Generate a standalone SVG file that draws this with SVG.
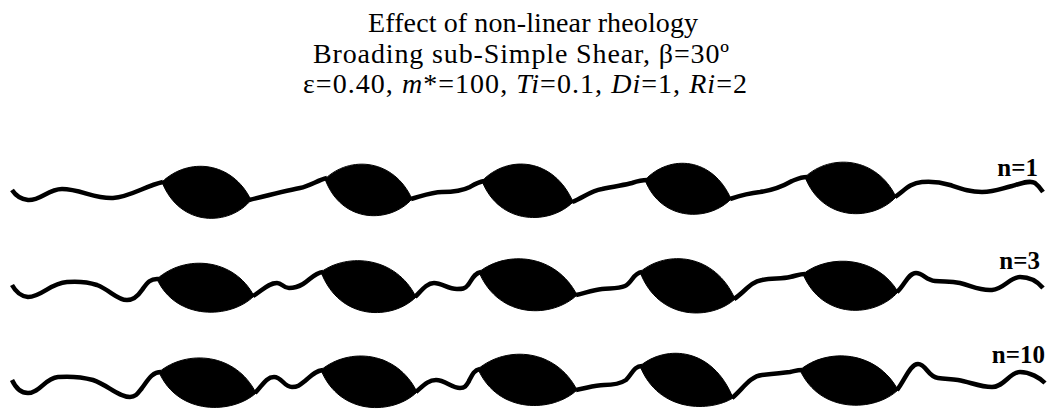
<svg xmlns="http://www.w3.org/2000/svg" width="1052" height="410" viewBox="0 0 1052 410">
  <style>
    .title { font-family: "Liberation Serif", "Times New Roman", serif; font-size: 28px; fill: #000; text-anchor: middle; }
    .it { font-style: italic; }
    .label { font-family: "Liberation Serif", "Times New Roman", serif; font-size: 25px; font-weight: bold; fill: #000; text-anchor: end; }
    .layer { fill: none; stroke: #000; stroke-width: 4.5; stroke-linejoin: round; stroke-linecap: butt; }
    .boudin { fill: #000; stroke: #000; stroke-width: 1; }
  </style>
  <rect width="1052" height="410" fill="#fff"/>

  <!-- heading -->
  <g id="title">
    <text class="title" x="533" y="32" textLength="330">Effect of non-linear rheology</text>
    <text class="title" x="521" y="63" textLength="416">Broading sub-Simple Shear, β=30º</text>
    <text class="title" x="525" y="93" textLength="444">ε=0.40, <tspan class="it">m</tspan>*=100, <tspan class="it">Ti</tspan>=0.1, <tspan class="it">Di</tspan>=1, <tspan class="it">Ri</tspan>=2</text>
  </g>

  <!-- stress exponent n = 1 -->
  <g id="row-n1">
    <g class="connectors">
      <path class="layer" d="M12,190 Q18,199 28,200 C40,201 48,189 62,189 C80,189 95,199 113,198 C130,197 145,186 163,182"/>
      <path class="layer" d="M249,200 C265,196 285,191 300,188 C310,186 318,180 327,178"/>
      <path class="layer" d="M411,199 C422,196 432,192 442,192 C452,192 462,191 470,187 C475,184 478,182 484,181"/>
      <path class="layer" d="M572,202 C583,198 590,191 602,189 C615,186 625,185 632,183 C638,181 642,180 647,180"/>
      <path class="layer" d="M730,199 C742,195 750,193 760,192 C775,190 785,185 792,181 C797,179 801,177 807,177"/>
      <path class="layer" d="M895,197 C905,190 910,183 922,182 C932,181 940,182 950,185 C962,189 970,192 982,192 C995,192 1000,189 1012,186 C1022,183 1030,180 1035,183 C1039,186 1041,189 1043,192"/>
    </g>
    <path class="boudin" d="M162,182 C188,157 232,161 251,200 C230,226 180,228 162,182 Z"/>
    <path class="boudin" d="M325,179 C350,155 394,159 412,199 C391,223 342,225 325,179 Z"/>
    <path class="boudin" d="M482,181 C508,154 554,158 573,202 C551,224.5 500,226.5 482,181 Z"/>
    <path class="boudin" d="M645,180 C670,153.5 713,157.5 731,199 C710,221 662,223 645,180 Z"/>
    <path class="boudin" d="M805,177 C831,153 877,157 896,197 C874,221 823,223 805,177 Z"/>
    <text class="label" x="1038" y="176">n=1</text>
  </g>

  <!-- stress exponent n = 3 -->
  <g id="row-n3">
    <g class="connectors">
      <path class="layer" d="M12,285 Q18,296 28,297 C42,297 50,283 67,282 C80,281 88,282 97,285 C110,290 117,300 127,300 C134,300 138,296 142,290 C147,283 150,278 159,279"/>
      <path class="layer" d="M253,296 C262,291 268,283 277,283 C282,283 283,288 289,288 C295,288 298,287 303,284 C310,280 314,273 323,272"/>
      <path class="layer" d="M415,297 C422,290 427,283 434,283 C442,283 448,289 457,289 C462,289 465,289 468,285 C472,280 474,273 481,272"/>
      <path class="layer" d="M576,295 C585,293 593,290 602,289 C610,288 618,289 625,286 C632,283 633,273 642,272"/>
      <path class="layer" d="M734,299 C745,292 750,282 762,280 C772,278 782,279 790,277 C796,276 799,274 805,274"/>
      <path class="layer" d="M897,292 C905,285 908,273 916,273 C923,273 926,280 935,281 C945,282 950,281 960,283 C972,286 980,291 992,290 C1004,289 1010,277 1020,277 C1030,277 1038,282 1043,288"/>
    </g>
    <path class="boudin" d="M157,279 C185,254 234,258 254,296 C231,319 176,321 157,279 Z"/>
    <path class="boudin" d="M321,272 C348,252.5 396,256.5 416,297 C393,320 340,322 321,272 Z"/>
    <path class="boudin" d="M479,272 C507,250 556,254 577,295 C553,318 499,320 479,272 Z"/>
    <path class="boudin" d="M640,272 C667,249.5 715,253.5 735,299 C712,320 659,322 640,272 Z"/>
    <path class="boudin" d="M803,274 C830,253 878,257 898,292 C875,318 822,320 803,274 Z"/>
    <text class="label" x="1040" y="269">n=3</text>
  </g>

  <!-- stress exponent n = 10 -->
  <g id="row-n10">
    <g class="connectors">
      <path class="layer" d="M12,380 Q18,393 28,393 C40,393 45,378 58,377 C72,376 82,377 93,380 C108,385 118,397 130,397 C136,397 138,393 142,388 C148,380 152,372 161,372"/>
      <path class="layer" d="M255,393 C262,386 266,377 274,377 C282,377 284,387 292,387 C298,387 300,385 305,381 C311,376 315,371 323,370"/>
      <path class="layer" d="M416,392 C423,386 428,380 436,380 C445,380 452,388 460,388 C465,388 466,386 469,381 C472,375 474,370 480,369"/>
      <path class="layer" d="M576,390 C587,388 595,385 604,385 C612,385 620,384 626,380 C632,374 634,366 642,366"/>
      <path class="layer" d="M732,398 C742,390 750,376 762,375 C772,374 782,373 790,372 C795,371 797,370 802,370"/>
      <path class="layer" d="M897,390 C905,380 910,364 918,364 C926,364 928,377 938,378 C945,379 950,379 958,380 C970,382 980,387 992,387 C1004,387 1010,372 1020,372 C1030,372 1040,378 1045,383"/>
    </g>
    <path class="boudin" d="M159,372 C187,349 236,353 256,393 C233,414 178,416 159,372 Z"/>
    <path class="boudin" d="M321,370 C349,347 397,351 417,392 C394,414.7 340,416.7 321,370 Z"/>
    <path class="boudin" d="M478,369 C507,345 556,349 577,390 C553,412.5 498,414.5 478,369 Z"/>
    <path class="boudin" d="M640,366 C667,344 713,348 733,398 C711,411.7 659,413.7 640,366 Z"/>
    <path class="boudin" d="M800,370 C828,347 877,351 898,390 C874.5,412 820,414 800,370 Z"/>
    <text class="label" x="1045" y="363">n=10</text>
  </g>
</svg>
